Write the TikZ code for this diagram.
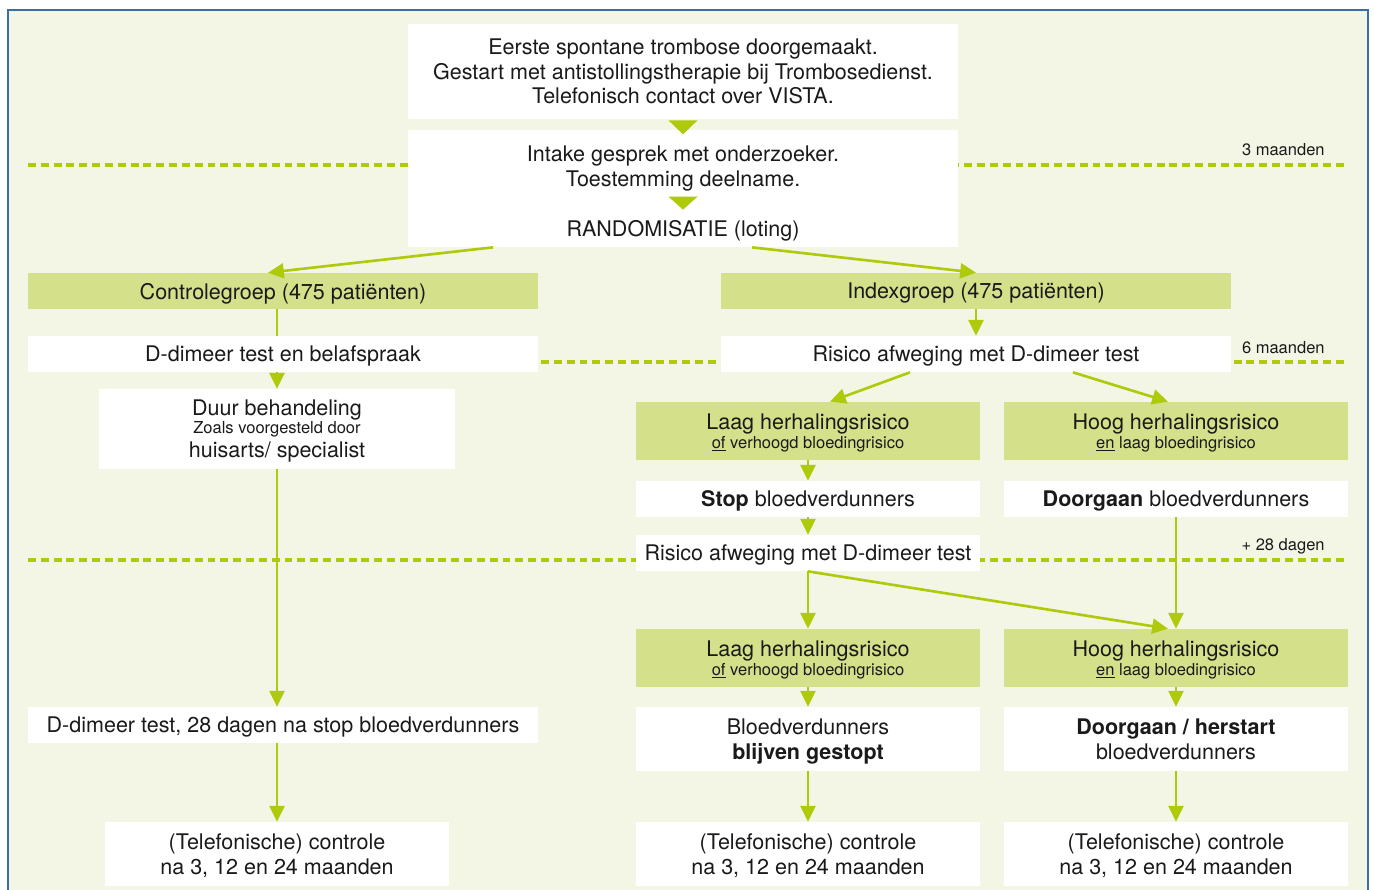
\documentclass[tikz,border=0pt]{standalone}
\usepackage{fontspec}
\setmainfont{TeX Gyre Heros}
\usetikzlibrary{arrows.meta,calc}
\definecolor{limegreen}{HTML}{AFCA0B}
\definecolor{boxgreen}{HTML}{D4E08A}
\definecolor{bggreen}{HTML}{F3F6E5}
\definecolor{frameblue}{HTML}{3A6EA5}
\definecolor{txt}{HTML}{1A1A1A}
\newcommand{\hoofdfont}{\fontsize{12.25}{14}\selectfont}
\newcommand{\kleinfont}{\fontsize{9.4}{10.5}\selectfont}
\tikzset{
  wbox/.style={fill=white, text=txt, align=center, inner sep=0pt, text depth=0pt, font=\hoofdfont},
  gbox/.style={wbox, fill=boxgreen},
  pijl/.style={draw=limegreen, line width=1.5pt, -{Triangle[width=8.5pt,length=9pt]}},
  lijn/.style={draw=limegreen, line width=1.5pt},
  tijdlijn/.style={draw=limegreen, line width=1.8pt, dash pattern=on 4.5pt off 2.8pt},
  tijd/.style={text=txt, font=\kleinfont, inner sep=0pt, anchor=base east},
  driehoek/.style={fill=limegreen}
}

\begin{document}
\begin{tikzpicture}[x=0.02cm,y=-0.02cm]
\useasboundingbox (0,0) rectangle (1374,890);
\fill[bggreen] (8,10) rectangle (1368,900);
\draw[frameblue,line width=1.2pt] (8,900) -- (8,10) -- (1368,10) -- (1368,900);
% tijdslijnen
\draw[tijdlijn] (28,165) -- (1348,165);
\draw[tijdlijn] (28,362) -- (1348,362);
\draw[tijdlijn] (28,560) -- (1348,560);
\node[tijd] (t3) at (1325,155) {3 maanden};
\node[tijd] (t6) at (1325,353) {6 maanden};
\node[tijd] (t28) at (1325,550) {+ 28 dagen};
% bovenste blokken
\node[wbox, minimum width=11cm, minimum height=1.9cm] (start) at (683,71.5)
  {Eerste spontane trombose doorgemaakt.\\Gestart met antistollingstherapie bij Trombosedienst.\\Telefonisch contact over VISTA.};
\node[wbox, minimum width=11cm, minimum height=2.34cm] (intake) at (683,188.5) {};
\node[wbox] (intaketxt) at (683,166) {Intake gesprek met onderzoeker.\\Toestemming deelname.};
\node[wbox] (rand) at (683,228) {RANDOMISATIE (loting)};
\fill[driehoek] ($(start.south)+(-14.5,1)$) -- ++(29,0) -- ++(-14.5,14) -- cycle;
\fill[driehoek] ($(intake.north)+(-14.5,67)$) -- ++(29,0) -- ++(-14.5,13) -- cycle;
% controlegroep
\node[gbox, minimum width=10.2cm, minimum height=0.72cm] (ctrl) at (283,291) {Controlegroep (475 patiënten)};
\node[wbox, minimum width=10.2cm, minimum height=0.72cm] (belaf) at (283,354) {D-dimeer test en belafspraak};
\node[wbox, minimum width=7.12cm, minimum height=1.6cm] (duur) at (277,429)
  {Duur behandeling\\[-4pt]{\kleinfont Zoals voorgesteld door}\\huisarts/ specialist};
\node[wbox, minimum width=10.2cm, minimum height=0.72cm] (dd28) at (283,725) {D-dimeer test, 28 dagen na stop bloedverdunners};
\node[wbox, minimum width=6.88cm, minimum height=1.28cm] (ctrlL) at (277,854) {(Telefonische) controle\\na 3, 12 en 24 maanden};
% indexgroep
\node[gbox, minimum width=10.2cm, minimum height=0.72cm] (index) at (976,291) {Indexgroep (475 patiënten)};
\node[wbox, minimum width=10.2cm, minimum height=0.72cm] (risico1) at (976,354) {Risico afweging met D-dimeer test};
\node[gbox, minimum width=6.88cm, minimum height=1.16cm] (laag1) at (808,431)
  {Laag herhalingsrisico\\[-3.5pt]{\kleinfont\underline{of} verhoogd bloedingrisico}};
\node[gbox, minimum width=6.88cm, minimum height=1.16cm] (hoog1) at (1176,431)
  {Hoog herhalingsrisico\\[-3.5pt]{\kleinfont\underline{en} laag bloedingrisico}};
\node[wbox, minimum width=6.88cm, minimum height=0.72cm] (stop) at (808,499) {\textbf{Stop} bloedverdunners};
\node[wbox, minimum width=6.88cm, minimum height=0.72cm] (door1) at (1176,499) {\textbf{Doorgaan} bloedverdunners};
\node[wbox, minimum width=6.88cm, minimum height=0.72cm] (risico2) at (808,553) {Risico afweging met D-dimeer test};
\node[gbox, minimum width=6.88cm, minimum height=1.16cm] (laag2) at (808,658)
  {Laag herhalingsrisico\\[-3.5pt]{\kleinfont\underline{of} verhoogd bloedingrisico}};
\node[gbox, minimum width=6.88cm, minimum height=1.16cm] (hoog2) at (1176,658)
  {Hoog herhalingsrisico\\[-3.5pt]{\kleinfont\underline{en} laag bloedingrisico}};
\node[wbox, minimum width=6.88cm, minimum height=1.28cm] (blijf) at (808,739) {Bloedverdunners\\\textbf{blijven gestopt}};
\node[wbox, minimum width=6.88cm, minimum height=1.28cm] (herstart) at (1176,739) {\textbf{Doorgaan / herstart}\\bloedverdunners};
\node[wbox, minimum width=6.88cm, minimum height=1.28cm] (ctrlM) at (808,854) {(Telefonische) controle\\na 3, 12 en 24 maanden};
\node[wbox, minimum width=6.88cm, minimum height=1.28cm] (ctrlR) at (1176,854) {(Telefonische) controle\\na 3, 12 en 24 maanden};
% pijlen
\draw[pijl] ($(intake.south)+(-190,0)$) -- ($(ctrl.north)+(-15,0)$);
\draw[pijl] ($(intake.south)+(69,0)$) -- (index.north);
\draw[lijn] (ctrl.south -| duur.north) -- (belaf.north -| duur.north);
\draw[pijl] (belaf.south -| duur.north) -- (duur.north);
\draw[pijl] (duur.south) -- (dd28.north -| duur.south);
\draw[pijl] (dd28.south -| ctrlL.north) -- (ctrlL.north);
\draw[pijl] (index.south) -- (risico1.north);
\draw[pijl] ($(risico1.south)+(-66,0)$) -- ($(laag1.north)+(22,0)$);
\draw[pijl] ($(risico1.south)+(97,0)$) -- ($(hoog1.north)+(-8,0)$);
\draw[pijl] (laag1.south) -- (stop.north);
\draw[pijl] (stop.south) -- (risico2.north);
\draw[pijl] (door1.south) -- (hoog2.north);
\draw[pijl] (risico2.south) -- (laag2.north);
\draw[pijl] (risico2.south) -- ($(hoog2.north)+(-8,0)$);
\draw[pijl] (laag2.south) -- (blijf.north);
\draw[pijl] (hoog2.south) -- (herstart.north);
\draw[pijl] (blijf.south) -- (ctrlM.north);
\draw[pijl] (herstart.south) -- (ctrlR.north);
\end{tikzpicture}
\end{document}
